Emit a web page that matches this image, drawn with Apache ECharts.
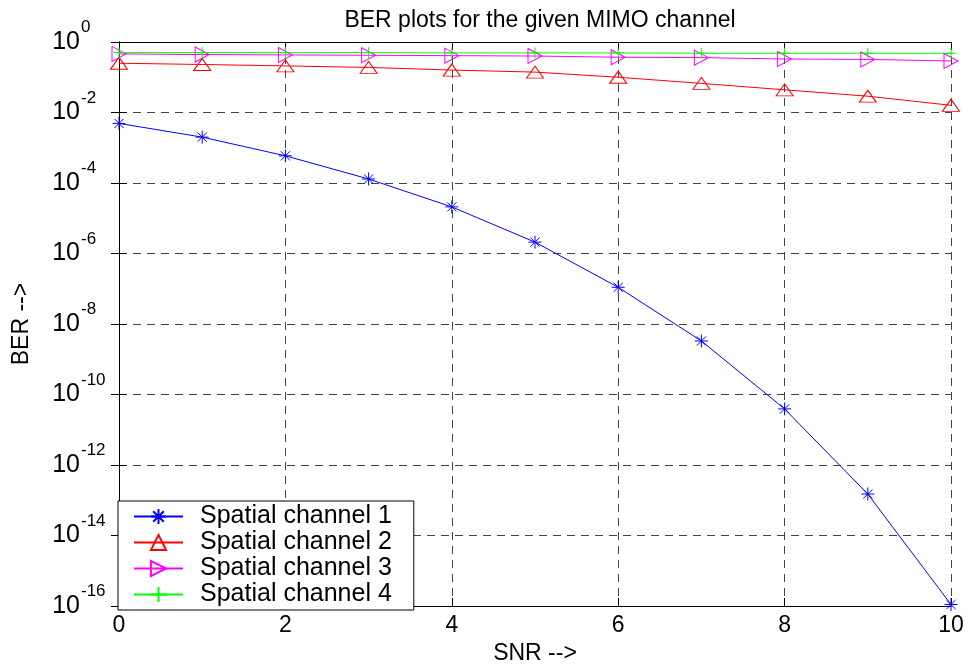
<!DOCTYPE html>
<html>
<head>
<meta charset="utf-8">
<script src="https://cdn.jsdelivr.net/npm/echarts@6/dist/echarts.min.js"></script>
<style>
    html, body { margin: 0; padding: 0; background: #fff; }
    #chart { width: 969px; height: 670px; }
</style>
</head>
<body>
<div id="chart"></div>
<script>
// SNR 0..10
const snr = [0, 1, 2, 3, 4, 5, 6, 7, 8, 9, 10];
// BER values
const berChannel1 = [4.9e-3, 2.0e-3, 5.9e-4, 1.3e-4, 2.1e-5, 2.1e-6, 1.1e-7, 3.3e-9, 3.9e-11, 1.5e-13, 1.1e-16];
const berChannel2 = [0.25, 0.23, 0.21, 0.19, 0.16, 0.14, 0.10, 0.067, 0.044, 0.029, 0.016];
const berChannel3 = [0.46, 0.44, 0.43, 0.42, 0.41, 0.40, 0.37, 0.36, 0.33, 0.32, 0.29];
const berChannel4 = [0.50, 0.50, 0.50, 0.50, 0.49, 0.49, 0.49, 0.48, 0.48, 0.48, 0.48];
const seriesNames = ["Spatial channel 1", "Spatial channel 2", "Spatial channel 3", "Spatial channel 4"];

const FONT = "Liberation Sans, Arial, sans-serif";
const pairs = (ys) => snr.map((x, i) => [x, ys[i]]);
const expOf = (v) => Math.round(Math.log10(v));

let myChart = echarts.init(document.getElementById("chart"));

// axis frame (top / right) like matlab box on
const frameX = {
    type: "value", min: 0, max: 10, interval: 2,
    axisLine: { show: true, lineStyle: { color: "#000", width: 1 } },
    axisTick: { show: true, inside: true, length: 8, lineStyle: { color: "#000" } },
    splitLine: { show: false },
};
const frameY = {
    type: "log", logBase: 10, min: 1e-16, max: 1, interval: 2,
    axisLine: { show: true, lineStyle: { color: "#000", width: 1 } },
    axisTick: { show: true, inside: true, length: 8, lineStyle: { color: "#000" } },
    splitLine: { show: false },
};

let option = {
    backgroundColor: "#fff",
    animation: false,
    title: {
        text: "BER plots for the given MIMO channel",
        left: 535,
        textAlign: "center",
        top: 4,
        textStyle: { fontFamily: FONT, fontSize: 23, fontWeight: "normal", color: "#000" },
    },
    grid: { left: 119, right: 18, top: 42, bottom: 64 },
    legend: {
        orient: "vertical",
        left: 118,
        top: 501,
        data: seriesNames,
        backgroundColor: "#fff",
        borderColor: "#000",
        borderWidth: 1,
        borderRadius: 0,
        padding: [3, 22, 3, 15],
        itemGap: 1,
        itemWidth: 49,
        itemHeight: 19,
        textStyle: { fontFamily: FONT, fontSize: 25, color: "#000", padding: [0, 0, 0, 12] },
    },
    xAxis: [
        {
            type: "value", min: 0, max: 10, interval: 2,
            name: "SNR -->",
            nameLocation: "middle",
            nameGap: 31,
            nameTextStyle: { fontFamily: FONT, fontSize: 23, color: "#000" },
            axisLine: { show: true, onZero: false, lineStyle: { color: "#000", width: 1 } },
            axisTick: { show: true, inside: true, length: 8, lineStyle: { color: "#000" } },
            axisLabel: { fontFamily: FONT, fontSize: 23, color: "#000", margin: 8 },
            splitLine: { show: true, lineStyle: { color: "#444", type: [8, 6], width: 1 } },
        },
        Object.assign({ position: "top", axisLabel: { show: false } }, frameX),
    ],
    yAxis: [
        {
            type: "log", logBase: 10, min: 1e-16, max: 1, interval: 2,
            name: "BER -->",
            nameLocation: "middle",
            nameGap: 86,
            nameRotate: 90,
            nameTextStyle: { fontFamily: FONT, fontSize: 23, color: "#000" },
            axisLine: { show: true, onZero: false, lineStyle: { color: "#000", width: 1 } },
            axisTick: { show: true, inside: true, length: 8, lineStyle: { color: "#000" } },
            axisLabel: {
                showMinLabel: true,
                showMaxLabel: true,
                fontFamily: FONT, fontSize: 25, color: "#000",
                align: "right",
                margin: 39,
                padding: [0, 0, 4, 0],
                formatter: function () { return "10"; },
            },
            splitLine: { show: true, lineStyle: { color: "#444", type: [8, 6], width: 1 } },
        },
        Object.assign({ position: "right", axisLabel: { show: false } }, frameY),
        // exponents of the tick labels (superscript)
        {
            type: "log", logBase: 10, min: 1e-16, max: 1, interval: 2,
            position: "left",
            offset: 0,
            axisLine: { show: false },
            axisTick: { show: false },
            splitLine: { show: false },
            axisLabel: {
                showMinLabel: true,
                showMaxLabel: true,
                fontFamily: FONT, fontSize: 17, color: "#000",
                align: "left",
                verticalAlign: "bottom",
                margin: 38,
                padding: [0, 0, 6, 0],
                formatter: function (v) { return String(expOf(v)); },
            },
        },
    ],
    series: [
        {
            type: "line",
            name: seriesNames[0],
            data: pairs(berChannel1),
            symbol: "path://M0,-10L0,10M-10,0L10,0M-7,-7L7,7M-7,7L7,-7",
            symbolSize: 13,
            lineStyle: { color: "#0000ff", width: 1 },
            itemStyle: { color: "rgba(0,0,0,0)", borderColor: "#0000ff", borderWidth: 1 },
        },
        {
            type: "line",
            name: seriesNames[1],
            data: pairs(berChannel2),
            symbol: "path://M0,12L8.5,0L17,12Z",
            symbolSize: [17, 12],
            lineStyle: { color: "#ff0000", width: 1 },
            itemStyle: { color: "rgba(0,0,0,0)", borderColor: "#ff0000", borderWidth: 1 },
        },
        {
            type: "line",
            name: seriesNames[2],
            data: pairs(berChannel3),
            symbol: "path://M0,0L14,7.5L0,15Z",
            symbolSize: [14, 15],
            lineStyle: { color: "#ff00ff", width: 1 },
            itemStyle: { color: "rgba(0,0,0,0)", borderColor: "#ff00ff", borderWidth: 1 },
        },
        {
            type: "line",
            name: seriesNames[3],
            data: pairs(berChannel4),
            symbol: "path://M0,-10L0,10M-10,0L10,0",
            symbolSize: 11,
            lineStyle: { color: "#00ff00", width: 1 },
            itemStyle: { color: "rgba(0,0,0,0)", borderColor: "#00ff00", borderWidth: 1 },
        },
    ],
};
myChart.setOption(option);
</script>
</body>
</html>
